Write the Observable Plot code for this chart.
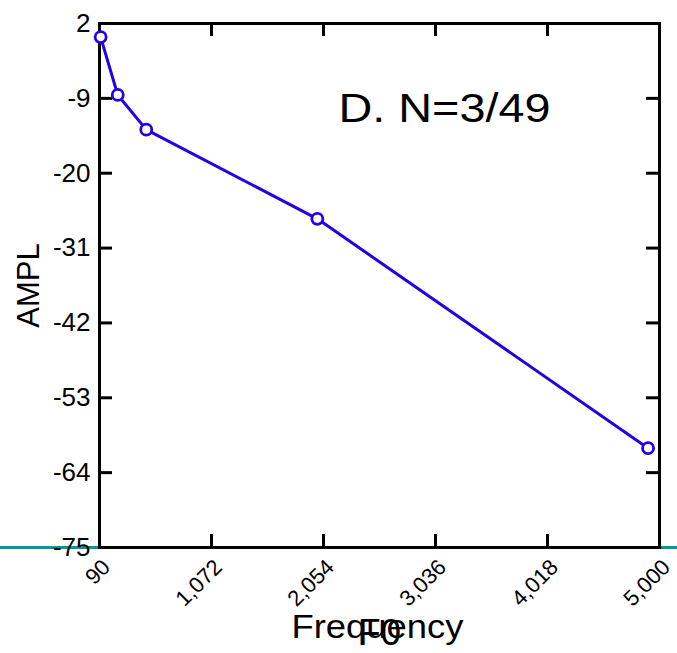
<!DOCTYPE html>
<html>
<head>
<meta charset="utf-8">
<script src="https://cdn.jsdelivr.net/npm/d3@7"></script>
<script src="https://cdn.jsdelivr.net/npm/@observablehq/plot@0.6"></script>
<style>
  html, body { margin: 0; padding: 0; background: #fff; }
  #chart svg { display: block; }
</style>
</head>
<body>
<div id="chart"></div>
<script>
// Data
const frequency = [100, 250, 500, 2000, 4900];
const amplitude = [0, -8.5, -13.6, -26.7, -60.4];
const xTicks = [90, 1072, 2054, 3036, 4018, 5000];
const yTicks = [2, -9, -20, -31, -42, -53, -64, -75];
const xDomain = [90, 5000];
const yDomain = [-75, 2];
const panelTitle = ["D. N=3/49"];
const xLabel = ["Frequency"];
const xLabel2 = ["F0"];
const yLabel = ["AMPL"];
const baseline = [-75];

const points = frequency.map((f, i) => ({f, a: amplitude[i]}));
const FONT = "'Liberation Sans', Arial, Helvetica, sans-serif";

const W = 677, H = 653, ML = 99, MR = 18, MT = 23, MB = 106;
const TICK = 13;
const frameW = W - ML - MR, frameH = H - MT - MB;

const chart = Plot.plot({
  width: W,
  height: H,
  marginLeft: ML,
  marginRight: MR,
  marginTop: MT,
  marginBottom: MB,
  style: {fontFamily: FONT, color: "black", background: "white", overflow: "visible"},
  x: {domain: xDomain, label: null},
  y: {domain: yDomain, label: null},
  marks: [
    Plot.ruleY(baseline, {stroke: "#009999", strokeWidth: 3, insetLeft: -ML, insetRight: -MR}),
    // inward ticks on all four sides
    Plot.tickX(xTicks, {x: d => d, stroke: "black", strokeWidth: 3, insetTop: frameH - TICK}),
    Plot.tickX(xTicks, {x: d => d, stroke: "black", strokeWidth: 3, insetBottom: frameH - TICK}),
    Plot.tickY(yTicks, {y: d => d, stroke: "black", strokeWidth: 3, insetRight: frameW - TICK}),
    Plot.tickY(yTicks, {y: d => d, stroke: "black", strokeWidth: 3, insetLeft: frameW - TICK}),
    Plot.frame({stroke: "black", strokeWidth: 3}),
    Plot.axisX({anchor: "bottom", ticks: xTicks, tickSize: 0, tickPadding: 16, tickRotate: -45,
      dx: 7, fontSize: 22, tickFormat: d3.format(","), label: null}),
    Plot.axisY({anchor: "left", ticks: yTicks, tickSize: 0, tickPadding: 9,
      fontSize: 26, tickFormat: d => String(d).replace("\u2212", "-"), label: null}),
    Plot.line(points, {x: "f", y: "a", stroke: "#2300e6", strokeWidth: 3}),
    Plot.dot(points, {x: "f", y: "a", r: 5.5, stroke: "#2300e6", strokeWidth: 2.8, fill: "white"}),
    Plot.text(panelTitle, {frameAnchor: "top", dx: 65, dy: 86, fontSize: 40, fill: "black",
      textAnchor: "middle", lineAnchor: "middle", className: "ptitle"}),
    Plot.text(yLabel, {frameAnchor: "left", rotate: -90, dx: -70, fontSize: 31, fill: "black",
      textAnchor: "middle", lineAnchor: "middle"}),
    Plot.text(xLabel, {frameAnchor: "bottom", dx: -2, dy: 80, fontSize: 33, fill: "black",
      textAnchor: "middle", lineAnchor: "middle", className: "xlab"}),
    Plot.text(xLabel2, {frameAnchor: "bottom", dx: 0, dy: 86, fontSize: 37, fill: "black",
      textAnchor: "middle", lineAnchor: "middle"})
  ]
});

document.getElementById("chart").appendChild(chart);

// stretch the wide labels to match the reference widths
const svg = d3.select(chart);
svg.selectAll(".ptitle text").attr("textLength", 212).attr("lengthAdjust", "spacingAndGlyphs");
svg.selectAll(".xlab text").attr("textLength", 172).attr("lengthAdjust", "spacingAndGlyphs");
</script>
</body>
</html>
